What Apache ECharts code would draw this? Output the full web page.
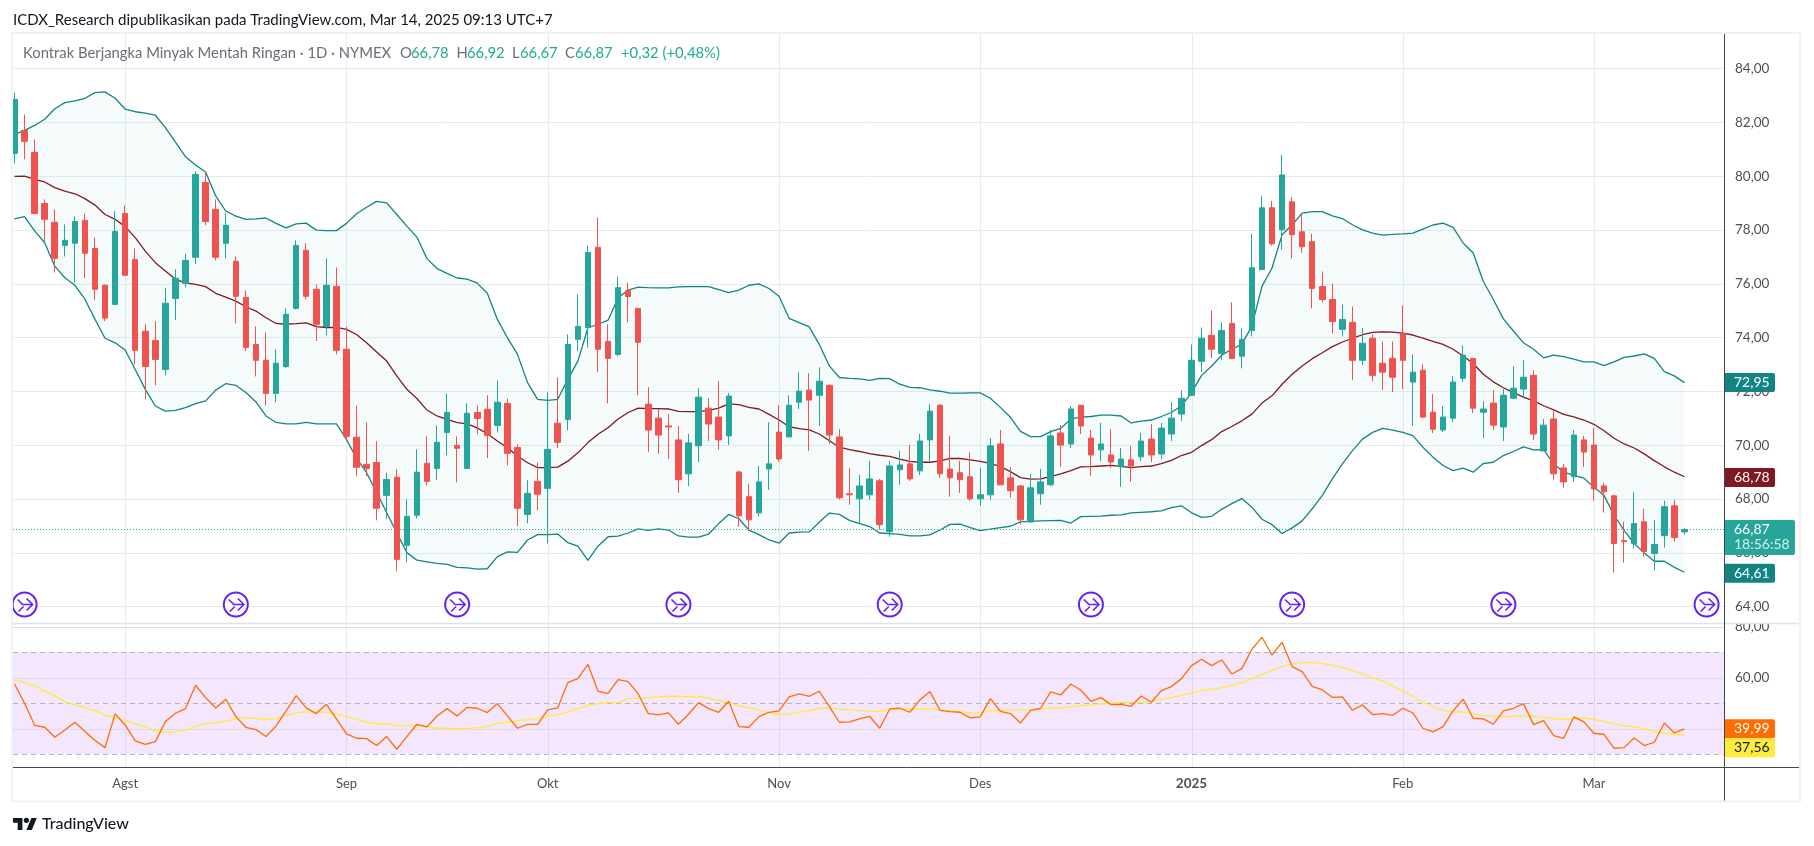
<!DOCTYPE html>
<html><head><meta charset="utf-8">
<style>html,body{margin:0;padding:0;background:#fff}#c{width:1814px;height:846px}</style>
<script src="https://cdn.jsdelivr.net/npm/echarts@6/dist/echarts.min.js"></script>
</head><body><div id="c"></div>
<script>
const opens=[80.85,81.71,80.89,78.99,78.29,77.43,77.51,78.36,77.32,75.95,
75.24,78.62,76.91,74.24,73.90,72.82,75.46,76.02,76.99,79.77,
78.77,77.51,76.84,75.50,73.75,73.16,71.93,72.93,75.09,77.25,
75.80,74.42,75.91,73.57,70.30,69.29,69.36,68.14,68.81,66.28,
67.40,69.33,69.14,70.48,70.00,69.14,71.22,71.34,70.74,71.56,
69.92,67.43,68.66,68.40,70.82,70.96,73.94,74.38,77.36,73.86,
73.38,75.75,75.09,71.53,71.01,70.72,70.20,68.94,69.98,71.38,
71.05,70.35,69.01,68.09,67.49,69.12,70.49,70.31,71.60,72.05,
71.86,72.23,70.31,68.20,68.01,68.16,68.68,66.79,69.09,69.31,
69.05,70.20,71.49,69.12,68.98,68.83,68.01,68.16,70.05,68.79,
68.49,67.15,68.20,68.53,70.46,70.05,71.49,70.27,69.83,69.64,
69.20,69.46,69.57,70.23,69.68,70.42,71.16,71.86,73.12,74.09,
73.42,74.53,73.31,74.27,76.53,78.83,78.01,79.05,77.94,77.57,
75.90,75.42,74.31,74.57,73.16,73.98,73.05,73.23,74.16,72.35,
72.79,71.23,70.57,71.01,72.49,73.23,71.23,71.57,70.68,71.75,
72.09,72.60,69.79,70.98,69.16,68.83,70.20,70.01,68.49,68.12,
66.46,66.35,67.16,65.98,66.64,67.75,66.78];
const highs=[83.11,82.30,81.37,79.14,78.77,78.21,78.51,78.62,77.73,75.98,
78.70,78.92,77.32,74.50,74.61,75.86,76.54,77.13,80.18,80.18,
79.14,78.62,77.02,75.76,74.42,74.20,73.57,75.09,77.62,77.51,
75.98,76.95,76.61,74.41,71.48,70.85,70.15,68.99,69.11,67.99,
69.85,70.33,70.74,71.93,70.33,71.56,71.48,71.86,72.41,71.74,
70.04,68.70,69.36,71.97,72.53,74.12,75.61,77.43,78.47,74.50,
76.27,76.05,75.09,72.16,71.35,71.16,70.72,70.42,72.12,71.75,
72.38,71.94,69.05,68.57,69.23,70.86,71.49,71.86,72.72,72.68,
72.90,72.27,70.60,69.16,68.90,69.42,68.75,69.42,69.79,70.01,
70.42,71.53,71.53,70.35,69.42,69.75,69.16,70.27,70.57,69.20,
68.53,68.94,69.12,70.57,70.75,71.46,71.49,70.57,70.83,70.60,
69.90,69.98,70.46,70.79,70.83,71.60,72.05,73.75,74.38,75.01,
74.57,75.31,74.35,77.86,79.27,79.09,80.79,79.23,78.57,77.86,
76.46,76.01,75.23,75.16,74.35,74.12,73.86,73.86,75.20,73.38,
73.01,71.90,71.46,72.57,73.72,73.23,71.64,72.05,72.09,72.94,
73.16,72.79,70.98,71.31,69.31,70.57,70.35,70.64,68.60,68.16,
67.16,68.27,67.64,67.23,67.94,67.98,66.92];
const lows=[80.48,80.63,78.60,77.58,76.42,77.02,76.04,76.21,75.39,74.62,
75.20,76.32,73.01,71.71,72.23,72.60,74.66,75.87,76.73,78.18,
76.87,76.95,74.53,73.50,72.56,71.48,71.60,72.88,75.05,75.42,
73.88,74.09,73.38,70.15,68.85,68.85,67.21,67.25,65.31,65.65,
67.28,68.51,68.70,69.63,68.62,69.14,70.41,69.52,70.48,69.25,
66.99,67.10,67.58,66.35,69.89,70.56,73.49,73.63,72.72,71.56,
73.31,74.57,71.86,69.75,69.68,69.49,68.23,68.49,69.38,70.16,
69.83,70.01,66.98,66.83,67.35,68.35,69.38,70.31,71.35,69.79,
70.72,70.05,67.98,67.79,67.09,67.98,66.86,66.60,68.53,68.68,
68.90,69.38,68.79,68.09,68.23,67.94,67.75,67.98,68.53,68.05,
67.05,67.12,67.79,68.49,69.20,69.90,70.42,68.86,69.42,69.16,
68.46,68.64,69.42,69.38,69.49,70.16,70.90,71.83,72.72,73.23,
73.16,73.20,72.86,74.05,76.53,77.42,77.27,76.94,77.16,75.09,
75.31,74.16,74.05,72.42,72.98,72.38,72.05,71.98,72.09,70.72,
71.01,70.46,70.49,70.86,72.35,71.20,70.27,70.57,70.16,71.72,
71.75,70.20,69.79,68.72,68.42,68.64,69.20,67.94,67.50,65.27,
65.64,66.16,65.86,65.35,66.20,66.42,66.67];
const closes=[82.86,81.30,78.62,78.40,76.95,77.62,78.32,77.14,75.80,74.73,
77.95,76.32,73.53,72.93,73.19,75.28,76.21,76.87,80.07,78.32,
76.99,78.18,75.54,73.64,73.16,71.93,73.05,74.87,77.43,75.54,
74.50,75.95,73.53,70.33,69.18,69.14,67.66,68.73,65.76,67.36,
69.00,68.66,70.11,71.22,69.89,71.19,71.00,70.37,71.60,69.70,
67.66,68.21,68.18,69.85,70.11,73.75,74.42,77.17,73.57,73.23,
75.86,75.53,73.83,70.57,70.38,70.68,68.72,70.09,71.79,70.79,
70.20,71.83,67.38,67.23,68.64,69.31,69.49,71.49,72.01,71.68,
72.38,70.38,68.05,68.16,68.49,68.75,67.05,69.23,69.27,68.75,
70.16,71.27,68.94,68.79,68.72,68.01,68.16,69.98,68.53,68.31,
67.23,68.42,68.64,70.35,70.01,71.35,70.72,69.64,70.05,69.38,
69.49,69.23,70.16,69.64,70.64,71.01,71.75,73.16,73.98,73.57,
74.27,73.23,73.94,76.60,78.83,77.49,80.05,77.83,77.38,75.83,
75.42,74.60,74.68,73.16,73.79,72.60,72.72,72.53,73.16,72.72,
71.05,70.60,71.05,72.35,73.35,71.38,71.35,70.75,71.86,72.12,
72.53,70.42,70.75,68.94,68.64,70.38,69.75,68.38,68.27,66.35,
66.42,67.09,66.05,66.31,67.72,66.57,66.87];
const bbUpper=[81.56,81.71,81.89,82.12,82.51,82.74,82.80,82.90,83.11,83.14,
82.90,82.50,82.40,82.35,82.27,81.81,81.27,80.73,80.42,80.16,
79.27,78.71,78.52,78.40,78.42,78.45,78.25,78.08,78.23,78.26,
78.00,77.98,77.98,78.25,78.61,78.85,79.07,79.01,78.58,78.15,
77.74,76.94,76.57,76.39,76.22,76.18,76.03,75.65,74.68,74.00,
73.38,72.33,71.71,71.67,71.71,72.45,73.13,74.37,74.50,74.65,
75.48,75.77,75.88,75.86,75.85,75.85,75.89,75.90,75.90,75.90,
75.79,75.68,75.77,75.95,76.00,75.83,75.54,74.72,74.56,74.40,
73.75,72.95,72.52,72.49,72.47,72.41,72.49,72.48,72.27,72.15,
72.14,72.06,72.01,71.94,71.94,71.95,71.95,71.75,71.41,71.04,
70.52,70.32,70.32,70.51,70.63,70.98,71.05,71.07,71.12,71.12,
71.09,70.83,70.90,70.94,71.07,71.22,71.47,71.96,72.60,72.95,
73.35,73.57,73.75,74.43,75.91,76.59,77.83,78.20,78.63,78.69,
78.69,78.53,78.43,78.20,78.01,77.89,77.81,77.84,77.86,77.89,
78.04,78.19,78.26,78.10,77.52,77.15,76.10,75.42,74.70,74.25,
73.81,73.57,73.25,73.35,73.30,73.20,73.10,73.10,72.96,73.10,
73.27,73.32,73.40,73.23,72.74,72.58,72.33];
const bbBasis=[80.00,80.01,79.89,79.79,79.58,79.45,79.35,79.17,78.93,78.58,
78.40,78.13,77.72,77.22,76.79,76.48,76.17,76.04,75.98,75.90,
75.65,75.51,75.36,75.15,74.99,74.74,74.53,74.50,74.52,74.55,
74.41,74.38,74.38,74.31,74.12,73.81,73.47,73.13,72.58,72.08,
71.74,71.31,71.09,70.96,70.84,70.80,70.65,70.43,70.16,69.91,
69.60,69.35,69.17,69.17,69.19,69.41,69.72,70.10,70.41,70.65,
70.98,71.22,71.38,71.36,71.36,71.35,71.26,71.25,71.25,71.30,
71.38,71.54,71.51,71.41,71.35,71.15,70.94,70.69,70.62,70.57,
70.42,70.17,69.93,69.84,69.77,69.69,69.63,69.59,69.49,69.40,
69.37,69.37,69.42,69.51,69.51,69.46,69.40,69.33,69.21,69.02,
68.80,68.74,68.75,68.84,68.94,69.06,69.20,69.21,69.23,69.25,
69.22,69.17,69.21,69.23,69.32,69.44,69.62,69.74,69.99,70.21,
70.51,70.70,70.91,71.16,71.57,71.84,72.27,72.64,72.95,73.22,
73.44,73.67,73.84,73.98,74.11,74.20,74.22,74.21,74.17,74.10,
73.98,73.86,73.75,73.57,73.32,73.04,72.64,72.36,72.14,71.96,
71.79,71.65,71.47,71.32,71.15,71.06,70.94,70.78,70.54,70.26,
70.05,69.90,69.68,69.43,69.20,69.00,68.83];
const bbLower=[78.42,78.50,77.97,77.53,76.66,76.23,75.95,75.43,74.68,73.98,
73.81,73.54,72.82,72.08,71.46,71.27,71.30,71.40,71.55,71.65,
72.05,72.29,72.23,71.96,71.61,71.09,70.85,70.80,70.80,70.85,
70.80,70.80,70.80,70.22,69.51,68.98,68.24,67.49,66.75,66.01,
65.73,65.67,65.61,65.57,65.46,65.44,65.40,65.41,65.86,66.04,
66.02,66.48,66.68,66.68,66.70,66.38,66.25,65.72,66.25,66.60,
66.62,66.74,66.89,66.84,66.89,66.85,66.63,66.59,66.59,66.70,
67.09,67.43,67.27,66.85,66.68,66.48,66.36,66.74,66.77,66.78,
67.14,67.48,67.43,67.21,67.09,66.98,66.74,66.72,66.69,66.63,
66.63,66.67,66.85,67.06,67.07,66.94,66.83,66.88,66.94,66.99,
67.15,67.17,67.19,67.20,67.21,67.11,67.35,67.36,67.37,67.40,
67.41,67.49,67.51,67.53,67.56,67.68,67.75,67.49,67.32,67.36,
67.62,67.83,68.02,67.70,67.25,67.05,66.72,66.93,67.19,67.64,
68.14,68.75,69.31,69.80,70.23,70.48,70.63,70.56,70.48,70.36,
69.93,69.56,69.25,69.06,69.15,69.00,69.32,69.37,69.62,69.77,
69.94,69.83,69.84,69.31,69.00,68.88,68.78,68.44,68.14,67.40,
66.84,66.35,66.00,65.69,65.69,65.46,65.28];
const rsiValues=[57.58,50.00,41.37,40.59,36.67,39.54,42.55,38.89,35.36,32.61,
45.82,41.50,35.23,33.92,34.97,42.81,46.08,47.91,57.06,52.22,
48.17,51.57,44.77,40.59,39.67,36.93,41.11,46.99,53.01,48.17,
45.95,49.61,43.86,37.97,36.27,36.14,33.40,36.93,31.96,36.93,
41.76,40.72,45.03,47.91,45.03,48.43,48.04,46.34,49.87,45.03,
40.20,41.76,41.76,47.39,48.17,58.10,59.67,65.29,54.71,53.92,
59.28,58.50,53.66,45.95,45.42,46.21,41.76,45.69,50.26,47.91,
46.47,50.78,40.85,40.59,44.77,46.47,46.99,52.48,53.66,52.75,
54.71,48.69,42.55,42.68,43.86,44.90,40.20,47.78,48.04,46.47,
51.31,54.58,47.25,46.73,46.47,44.25,44.64,51.83,46.86,45.95,
42.29,47.25,48.04,54.44,53.27,57.58,55.10,50.78,52.22,49.48,
49.61,48.82,52.88,50.39,54.97,56.54,59.67,64.77,67.25,64.77,
66.99,61.50,63.59,71.18,75.88,68.95,73.92,64.38,62.42,56.67,
55.23,52.35,52.48,47.25,49.35,45.56,45.95,45.29,48.04,46.21,
40.20,38.76,40.85,46.99,51.57,44.12,43.86,41.76,46.99,48.04,
49.87,41.63,43.20,37.32,36.27,44.64,42.68,38.24,37.84,32.35,
32.61,36.41,33.40,34.71,42.29,38.37,39.99];
const rsiMa=[59.15,58.24,56.80,54.84,52.88,50.65,49.35,48.30,47.12,45.29,
44.51,43.33,41.90,40.85,39.28,38.63,38.89,39.54,40.98,41.90,
42.29,43.07,43.86,44.38,43.99,43.73,43.99,45.29,46.34,46.60,
46.60,46.47,45.69,44.77,43.73,42.55,41.90,41.90,41.24,41.24,
41.24,40.85,40.20,40.20,40.07,40.07,40.46,40.98,42.03,42.55,
43.20,43.46,43.99,44.90,45.42,46.73,47.91,49.22,49.87,50.26,
50.26,51.83,51.96,52.22,52.48,52.75,52.75,52.61,52.75,51.96,
51.18,50.13,49.08,48.30,47.39,46.34,45.69,45.82,46.60,47.12,
48.04,48.17,47.78,47.39,47.25,46.86,46.86,47.39,47.78,47.65,
47.78,47.91,47.39,46.99,46.60,46.21,46.21,46.99,47.25,47.39,
47.39,47.39,47.78,48.04,48.17,48.69,49.08,49.35,49.74,50.00,
50.39,50.39,50.39,50.78,51.57,52.35,53.14,54.05,55.10,55.49,
56.14,56.93,58.10,59.54,61.37,62.94,64.38,65.42,65.95,65.95,
65.69,64.90,63.99,62.81,61.63,59.93,58.76,56.80,54.84,52.88,
50.39,48.69,47.25,46.73,46.47,45.82,45.29,44.90,44.77,44.90,
45.03,44.90,44.38,43.99,43.73,43.86,44.25,43.73,42.81,41.90,
41.11,40.85,40.07,38.89,38.24,37.84,37.56];
const monthIdx=[11,33,53,76,96,117,138,157];
const monthLabels=['Agst','Sep','Okt','Nov','Des','{b|2025}','Feb','Mar'];
const sessionIdx=[1,22,44,66,87,107,127,148,168.2];
const rsiSolid=[80,60,40];
const rsiDashed=[70,50,30];
const lastPrice=66.87;
const priceTags=[[72.33,'72,95','#138484','#fff'],[68.80,'68,78','#801922','#fff'],[65.24,'64,61','#138484','#fff']];
const rsiTags=[[40.0,'39,99','#ff6d00','#fff'],[32.55,'37,56','#ffeb3b','#131722']];
const FONT='Lato, "Noto Sans", sans-serif';
const X0=13,AX=1724;
const XMIN=-0.149,XMAX=169.93;
const fmt=v=>v.toFixed(2).replace('.',',');

const candleData=opens.map((o,i)=>[i,o,closes[i],lows[i],highs[i]]);
const toXY=a=>a.map((v,i)=>[i,v]);

function vline(params,api){
  const a=api.coord([api.value(0),0]),b=api.coord([api.value(0),1]);
  return {type:'line',shape:{x1:Math.round(a[0])+.5,y1:a[1],x2:Math.round(b[0])+.5,y2:b[1]},style:{stroke:'#e4ecf1',lineWidth:1}};
}
function rsiLine(dashed){return function(params,api){
  const y=Math.round(api.coord([XMIN,api.value(0)])[1])+.5;
  return {type:'line',shape:{x1:X0,y1:y,x2:AX,y2:y},style:dashed?{stroke:'#b8b2bd',lineWidth:1,lineDash:[5,4]}:{stroke:'#e0d6ee',lineWidth:1}};
};}
function tag(w){return function(params,api){
  const y=api.coord([XMIN,api.value(0)])[1];
  const r=(w.rows)[params.dataIndex];
  return {type:'group',children:[
    {type:'rect',shape:{x:AX+1,y:y-9.5,width:50,height:19,r:[0,2,2,0]},style:{fill:r[2]}},
    {type:'text',style:{x:AX+10,y:y,text:r[1],fill:r[3],font:'14px '+FONT,textVerticalAlign:'middle'}}
  ]};
};}

const option={
  animation:false,
  backgroundColor:'#fff',
  textStyle:{fontFamily:FONT},
  grid:[
    {left:X0,right:1814-AX,top:68.7,height:538},
    {left:X0,right:1814-AX,top:626.8,height:140.2},
    {left:X0,right:1814-AX,top:33,height:734}
  ],
  xAxis:[
    {type:'value',gridIndex:0,min:XMIN,max:XMAX,show:false,splitLine:{show:false}},
    {type:'value',gridIndex:1,min:XMIN,max:XMAX,axisLine:{show:false},axisTick:{show:false},splitLine:{show:false},
     axisLabel:{customValues:monthIdx,margin:10,color:'#4d4f59',fontSize:13,fontFamily:FONT,hideOverlap:false,
       formatter:v=>monthLabels[monthIdx.indexOf(v)]||'',
       rich:{b:{fontWeight:'bold',fontSize:13.5,color:'#4d4f59',fontFamily:FONT}}}},
    {type:'value',gridIndex:2,min:XMIN,max:XMAX,show:false,splitLine:{show:false}}
  ],
  yAxis:[
    {type:'value',gridIndex:0,position:'right',min:64,max:84,interval:2,axisLine:{show:false},axisTick:{show:false},
     splitLine:{lineStyle:{color:'#e4ecf1',width:1}},
     axisLabel:{margin:11,color:'#4d4f59',fontSize:13.5,fontFamily:FONT,formatter:fmt}},
    {type:'value',gridIndex:1,position:'right',min:25,max:80,axisLine:{show:false},axisTick:{show:false},splitLine:{show:false},
     axisLabel:{customValues:[60,80],margin:11,color:'#4d4f59',fontSize:13.5,fontFamily:FONT,formatter:fmt}},
    {type:'value',gridIndex:2,min:0,max:1,show:false,splitLine:{show:false}}
  ],
  series:[
    {name:'month grid',type:'custom',xAxisIndex:2,yAxisIndex:2,z:1,silent:true,data:monthIdx.map(i=>[i,0]),encode:{x:0,y:1},renderItem:vline},
    {name:'rsi band',type:'custom',xAxisIndex:1,yAxisIndex:1,z:1,silent:true,data:[[0,70]],encode:{x:0,y:1},renderItem(params,api){
      const a=api.coord([XMIN,rsiDashed[0]]),b=api.coord([XMAX,rsiDashed[2]]);
      return {type:'rect',shape:{x:a[0],y:a[1],width:b[0]-a[0],height:b[1]-a[1]},style:{fill:'rgba(155,39,240,0.11)'}};
    }},
    {name:'rsi solid',type:'custom',xAxisIndex:1,yAxisIndex:1,z:2,silent:true,data:rsiSolid.map(v=>[v,0]),encode:{x:1,y:0},renderItem:rsiLine(false)},
    {name:'rsi dashed',type:'custom',xAxisIndex:1,yAxisIndex:1,z:2,silent:true,data:rsiDashed.map(v=>[v,0]),encode:{x:1,y:0},renderItem:rsiLine(true)},
    {name:'bb fill',type:'custom',xAxisIndex:0,yAxisIndex:0,z:2,silent:true,data:[[0,bbUpper[0]]],encode:{x:0,y:1},renderItem(params,api){
      const pts=bbUpper.map((v,i)=>api.coord([i,v])).concat(bbLower.map((v,i)=>api.coord([i,v])).reverse());
      return {type:'polygon',shape:{points:pts},style:{fill:'rgba(34,171,148,0.05)'}};
    }},
    {name:'BB Upper',type:'line',xAxisIndex:0,yAxisIndex:0,z:3,data:toXY(bbUpper),showSymbol:false,silent:true,lineStyle:{color:'#138484',width:1.3}},
    {name:'BB Lower',type:'line',xAxisIndex:0,yAxisIndex:0,z:3,data:toXY(bbLower),showSymbol:false,silent:true,lineStyle:{color:'#138484',width:1.3}},
    {name:'BB Basis',type:'line',xAxisIndex:0,yAxisIndex:0,z:3,data:toXY(bbBasis),showSymbol:false,silent:true,lineStyle:{color:'#801922',width:1.3}},
    {name:'CL',type:'candlestick',xAxisIndex:0,yAxisIndex:0,z:5,barWidth:6,silent:true,data:candleData,
      itemStyle:{color:'#26a69a',color0:'#ef5350',borderColor:'#26a69a',borderColor0:'#ef5350',borderWidth:1},
      markLine:{silent:true,symbol:'none',label:{show:false},lineStyle:{color:'#22ab94',type:[1,2],width:1},data:[{yAxis:lastPrice}]}},
    {name:'RSI',type:'line',xAxisIndex:1,yAxisIndex:1,z:6,data:toXY(rsiValues),showSymbol:false,silent:true,lineStyle:{color:'#ff6d00',width:1.3}},
    {name:'RSI MA',type:'line',xAxisIndex:1,yAxisIndex:1,z:5,data:toXY(rsiMa),showSymbol:false,silent:true,lineStyle:{color:'#ffeb3b',width:1.3}},
    {name:'sessions',type:'custom',xAxisIndex:0,yAxisIndex:0,z:8,silent:true,data:sessionIdx.map(i=>[i,64.08]),encode:{x:0,y:1},renderItem(params,api){
      const c=api.coord([api.value(0),api.value(1)]),x=c[0],y=c[1];
      const st={stroke:'#651fff',fill:null,lineWidth:1.6};
      return {type:'group',children:[
        {type:'circle',shape:{cx:x,cy:y,r:12},style:{stroke:'#651fff',fill:'#fff',lineWidth:2}},
        {type:'polyline',shape:{points:[[x-7,y-5],[x-2,y],[x+8,y]]},style:st},
        {type:'polyline',shape:{points:[[x+2,y-6],[x+8,y],[x+2,y+6]]},style:st},
        {type:'polyline',shape:{points:[[x-6,y+7],[x-1,y+2]]},style:st}
      ]};
    }},
    {name:'price tags',type:'custom',xAxisIndex:0,yAxisIndex:0,z:20,silent:true,data:priceTags.map(r=>[r[0],0]),encode:{x:1,y:0},renderItem:tag({rows:priceTags})},
    {name:'last tag',type:'custom',xAxisIndex:0,yAxisIndex:0,z:21,silent:true,data:[[lastPrice,0]],encode:{x:1,y:0},renderItem(params,api){
      const y=api.coord([XMIN,api.value(0)])[1];
      return {type:'group',children:[
        {type:'rect',shape:{x:AX+1,y:y-9.5,width:70,height:35,r:[0,2,2,0]},style:{fill:'#26a69a'}},
        {type:'text',style:{x:AX+10,y:y-0.5,text:'66,87',fill:'#fff',font:'14px '+FONT,textVerticalAlign:'middle'}},
        {type:'text',style:{x:AX+10,y:y+15,text:'18:56:58',fill:'#d4eeea',font:'14px '+FONT,textVerticalAlign:'middle'}}
      ]};
    }},
    {name:'rsi tags',type:'custom',xAxisIndex:1,yAxisIndex:1,z:21,silent:true,data:rsiTags.map(r=>[r[0],0]),encode:{x:1,y:0},renderItem:tag({rows:rsiTags})}
  ],
  graphic:{elements:[
    {type:'rect',z:30,silent:true,shape:{x:AX+2,y:612,width:74,height:11},style:{fill:'#fff'}},
    {type:'line',z:31,silent:true,shape:{x1:X0,y1:623.5,x2:1800,y2:623.5},style:{stroke:'#e0e3eb',lineWidth:1.5}},
    {type:'line',z:31,silent:true,shape:{x1:X0,y1:767.5,x2:1800,y2:767.5},style:{stroke:'#434651',lineWidth:1}},
    {type:'line',z:31,silent:true,shape:{x1:AX+.5,y1:33,x2:AX+.5,y2:801},style:{stroke:'#434651',lineWidth:1}},
    {type:'rect',z:32,silent:true,shape:{x:12,y:33,width:1788,height:768.5},style:{stroke:'#f0f2f5',fill:null,lineWidth:2}},
    {type:'text',z:40,silent:true,style:{x:13,y:20,text:'ICDX_Research dipublikasikan pada TradingView.com, Mar 14, 2025 09:13 UTC+7',fill:'#131722',font:'15px '+FONT,textVerticalAlign:'middle'}},
    {type:'text',z:40,silent:true,style:{x:23,y:53,text:'Kontrak Berjangka Minyak Mentah Ringan · 1D · NYMEX',fill:'#6a6d78',font:'14.8px '+FONT,textVerticalAlign:'middle'}},
    ...[[400,'O','#6a6d78'],[411,'66,78','#22ab94'],[456.5,'H','#6a6d78'],[467,'66,92','#22ab94'],[512,'L','#6a6d78'],[520,'66,67','#22ab94'],[565,'C','#6a6d78'],[575,'66,87','#22ab94'],[621,'+0,32 (+0,48%)','#22ab94']].map(s=>(
      {type:'text',z:40,silent:true,style:{x:s[0],y:53,text:s[1],fill:s[2],font:'14.8px '+FONT,textVerticalAlign:'middle'}})),
    {type:'polygon',z:40,silent:true,shape:{points:[[13,818],[22.4,818],[22.4,830],[17.7,830],[17.7,822.7],[13,822.7]]},style:{fill:'#131722'}},
    {type:'polygon',z:40,silent:true,shape:{points:[[31.8,830],[26.4,830],[31.4,818],[36.8,818]]},style:{fill:'#131722'}},
    {type:'circle',z:40,silent:true,shape:{cx:26.4,cy:820.3,r:2.6},style:{fill:'#131722'}},
    {type:'text',z:40,silent:true,style:{x:42,y:824,text:'TradingView',fill:'#131722',font:'500 16px '+FONT,textVerticalAlign:'middle'}}
  ]}
};
echarts.init(document.getElementById('c')).setOption(option);
</script></body></html>
